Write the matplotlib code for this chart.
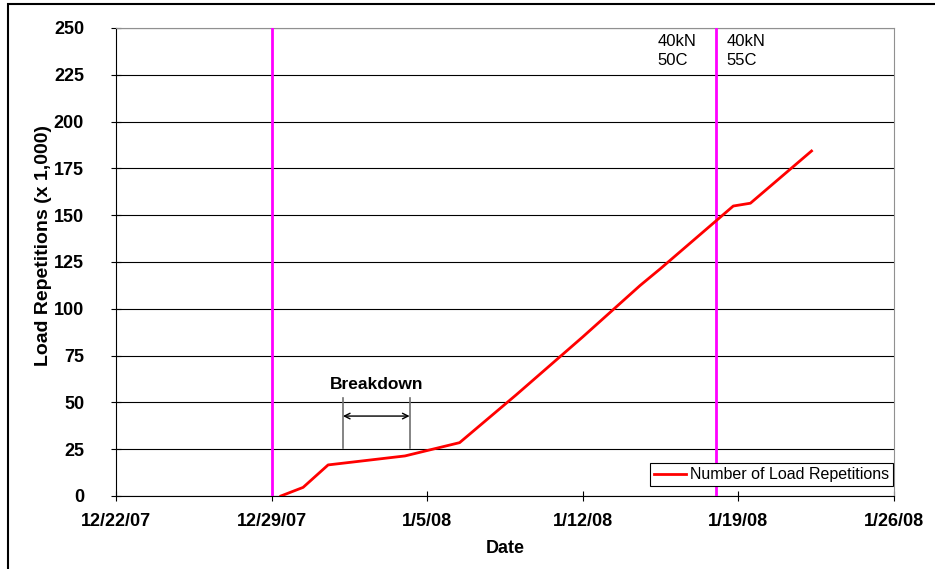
import datetime as dt
import matplotlib
matplotlib.use('Agg')
import matplotlib.pyplot as plt
import matplotlib.dates as mdates
from matplotlib.ticker import FuncFormatter, MultipleLocator
from matplotlib.patches import Rectangle

plt.rcParams['font.family'] = ['Liberation Sans', 'DejaVu Sans']

# load history (x 1,000 repetitions)
dates = ["2007-12-29 10:00", "2007-12-30 10:00", "2007-12-31 13:00",
         "2008-01-04 00:00", "2008-01-06 11:00", "2008-01-09 00:00",
         "2008-01-12 00:00", "2008-01-14 14:00", "2008-01-15 12:00",
         "2008-01-18 18:30", "2008-01-19 13:00", "2008-01-22 07:00"]
reps = [0, 4.6, 16.6, 21.4, 28.5, 54, 85, 112.5, 121.5, 154.9, 156.4, 184.3]

phase_changes = ["2007-12-29", "2008-01-18"]
phase_left = "40kN\n50C"
phase_right = "40kN\n55C"
breakdown_start = "2008-01-01 05:00"
breakdown_end = "2008-01-04 05:00"

x_start = "2007-12-22"
x_end = "2008-01-26"

def d(s):
    return mdates.date2num(dt.datetime.fromisoformat(s))

def fmt_date(v, pos):
    t = mdates.num2date(v)
    return "{}/{}/{}".format(t.month, t.day, t.strftime('%y'))

fig = plt.figure(figsize=(9.35, 5.69), dpi=100)
ax = fig.add_axes([0.1241, 0.1283, 0.8320, 0.8225])

ax.plot([d(s) for s in dates], reps, color='red', lw=2,
        label='Number of Load Repetitions', zorder=4)
for s in phase_changes:
    ax.axvline(d(s), color='#FF00FF', lw=2, zorder=3)

ax.set_xlim(d(x_start), d(x_end))
ax.set_ylim(0, 250)
ax.set_xticks([d(x_start) + 7 * i for i in range(6)])
ax.xaxis.set_major_formatter(FuncFormatter(fmt_date))
ax.yaxis.set_major_locator(MultipleLocator(25))
ax.grid(axis='y', color='black', lw=0.8, zorder=1)
ax.set_axisbelow(True)

ax.tick_params(axis='both', direction='inout', length=7, width=0.8, labelsize=13)
ax.tick_params(axis='x', pad=9)
ax.tick_params(axis='y', pad=19.5)
for lab in ax.get_xticklabels() + ax.get_yticklabels():
    lab.set_fontweight('bold')

for side in ['top', 'right']:
    ax.spines[side].set_color('#909090')
    ax.spines[side].set_linewidth(0.8)
for side in ['left', 'bottom']:
    ax.spines[side].set_linewidth(0.8)

ax.set_xlabel('Date', fontsize=13, fontweight='bold', labelpad=7)
ax.set_ylabel('Load Repetitions (x 1,000)', fontsize=14, fontweight='bold')
ax.yaxis.set_label_coords(-0.082, 0.535)

# breakdown marker
for s in [breakdown_start, breakdown_end]:
    ax.plot([d(s), d(s)], [25.8, 52.3], color='#707070', lw=1.2, zorder=2)
ax.annotate('', xy=(d(breakdown_start), 42.7), xytext=(d(breakdown_end), 42.7),
            arrowprops=dict(arrowstyle='<->', color='black', lw=1,
                            shrinkA=0, shrinkB=0, mutation_scale=10))
ax.text((d(breakdown_start) + d(breakdown_end)) / 2, 59.8, 'Breakdown',
        fontsize=12.5, fontweight='bold', ha='center', va='center')

ax.text(d(phase_changes[1]) - 0.88, 247, phase_left, fontsize=12,
        ha='right', va='top', linespacing=1.35, multialignment='left')
ax.text(d(phase_changes[1]) + 0.46, 247, phase_right, fontsize=12,
        ha='left', va='top', linespacing=1.35)

leg = ax.legend(loc='lower right', bbox_to_anchor=(0.999, 0.021), borderaxespad=0,
                fontsize=11.5, fancybox=False, framealpha=1, handlelength=2,
                handletextpad=0.25, borderpad=0.25)
leg.get_frame().set_edgecolor('black')
leg.get_frame().set_linewidth(0.8)

# outer chart frame (cut at right and bottom)
fig.patches.append(Rectangle((8 / 935, -0.1), 1.2, 0.1 + (1 - 4.5 / 569),
                             transform=fig.transFigure, fill=False,
                             edgecolor='black', lw=1.5))

fig.savefig('out.png', dpi=100)
